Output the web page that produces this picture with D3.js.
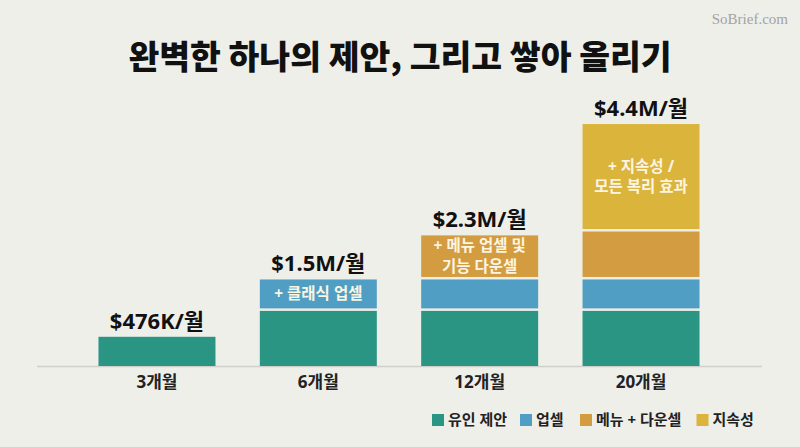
<!DOCTYPE html>
<html>
<head>
<meta charset="utf-8">
<script src="https://cdn.jsdelivr.net/npm/d3@7"></script>
<style>
  html, body { margin: 0; padding: 0; background: #efefea; }
  svg text { font-family: "Noto Sans", "Noto Sans CJK KR", sans-serif; }
  .title { font-family: "Noto Sans CJK KR", sans-serif; font-weight: 900; }
</style>
</head>
<body>
<div id="main"></div>
<script>
// categories and stacked values (M$/month)
const months = ["3개월", "6개월", "12개월", "20개월"];
const seriesNames = ["유인 제안", "업셀", "메뉴 + 다운셀", "지속성"];
const baseOffer = [0.53, 1.0, 1.0, 1.0];
const upsell = [0, 0.57, 0.57, 0.57];
const menuDownsell = [0, 0, 0.8, 0.87];
const continuity = [0, 0, 0, 1.95];
const totalLabels = ["$476K/월", "$1.5M/월", "$2.3M/월", "$4.4M/월"];
// notes written inside segments: [month, series, lines]
const segmentNotes = [
    ["6개월", "업셀", ["+ 클래식 업셀"]],
    ["12개월", "메뉴 + 다운셀", ["+ 메뉴 업셀 및", "기능 다운셀"]],
    ["20개월", "지속성", ["+ 지속성 /", "모든 복리 효과"]]
];
const seriesColors = ["#2b9583", "#519ec4", "#d49c40", "#dbb43b"];

const ctx = {
    w: 800,
    h: 447,
    GAP: 2.5,
};

function createViz(){
    let svgEl = d3.select("#main").append("svg")
                  .attr("width", ctx.w)
                  .attr("height", ctx.h);
    svgEl.append("rect").attr("width", ctx.w).attr("height", ctx.h)
         .attr("fill", "#efefea");

    let rows = months.map((m, i) => ({
        month: m,
        [seriesNames[0]]: baseOffer[i],
        [seriesNames[1]]: upsell[i],
        [seriesNames[2]]: menuDownsell[i],
        [seriesNames[3]]: continuity[i],
        label: totalLabels[i]
    }));
    let stacked = d3.stack().keys(seriesNames)(rows);

    ctx.xScale = d3.scaleBand().domain(months)
                   .range([76.3, 721.7])
                   .paddingInner(0.275)
                   .paddingOuter(0.1375);
    ctx.yScale = d3.scaleLinear().domain([0, 4.4])
                   .range([366, 123.5]);
    ctx.cScale = d3.scaleOrdinal().domain(seriesNames).range(seriesColors);

    // title
    svgEl.append("text")
         .attr("class", "title")
         .attr("x", ctx.w/2)
         .attr("y", 69)
         .attr("text-anchor", "middle")
         .style("font-size", "33.5px")
         .attr("fill", "#111")
         .text("완벽한 하나의 제안, 그리고 쌓아 올리기");
    // watermark
    svgEl.append("text")
         .attr("x", 788)
         .attr("y", 24)
         .attr("text-anchor", "end")
         .style("font-family", "'Liberation Serif', serif")
         .style("font-size", "15px")
         .attr("fill", "#a3a3a0")
         .text("SoBrief.com");

    // baseline
    svgEl.append("line")
         .attr("x1", 37).attr("x2", 762)
         .attr("y1", 366.5).attr("y2", 366.5)
         .style("stroke", "#cfcfcb")
         .style("stroke-width", 1.5);

    // stacked segments, a small gap under every upper segment
    let layers = svgEl.append("g").selectAll("g")
        .data(stacked)
        .enter()
        .append("g")
        .attr("fill", (d) => ctx.cScale(d.key));
    layers.selectAll("rect")
        .data((d) => d.filter((s) => s[1] - s[0] > 0))
        .enter()
        .append("rect")
        .attr("x", (d) => ctx.xScale(d.data.month))
        .attr("width", ctx.xScale.bandwidth())
        .attr("y", (d) => ctx.yScale(d[1]))
        .attr("height", (d) => ctx.yScale(d[0]) - ctx.yScale(d[1]) - (d[0] > 0 ? ctx.GAP : 0));

    // totals above bars
    svgEl.append("g").selectAll("text")
        .data(rows)
        .enter()
        .append("text")
        .attr("x", (d) => ctx.xScale(d.month) + ctx.xScale.bandwidth()/2)
        .attr("y", (d) => ctx.yScale(d3.sum(seriesNames, (k) => d[k])) - 8)
        .attr("text-anchor", "middle")
        .style("font-size", "22px")
        .style("font-weight", "bold")
        .attr("fill", "#111")
        .text((d) => d.label);

    // notes inside segments
    segmentNotes.forEach(function(n){
        let layer = stacked.find((s) => s.key == n[1]);
        let seg = layer[months.indexOf(n[0])];
        let cy = (ctx.yScale(seg[0]) - ctx.GAP + ctx.yScale(seg[1])) / 2;
        let lh = 20.5;
        let t = svgEl.append("text")
            .attr("x", ctx.xScale(n[0]) + ctx.xScale.bandwidth()/2)
            .attr("text-anchor", "middle")
            .style("font-size", "15.5px")
            .style("font-weight", "bold")
            .attr("fill", "#fbf5e2");
        n[2].forEach(function(line, i){
            t.append("tspan")
             .attr("x", ctx.xScale(n[0]) + ctx.xScale.bandwidth()/2)
             .attr("y", cy + (i - (n[2].length - 1)/2) * lh)
             .attr("dy", "0.35em")
             .text(line);
        });
    });

    // category axis
    let ax = svgEl.append("g")
        .attr("transform", "translate(0,376)")
        .call(d3.axisBottom(ctx.xScale).tickSize(0).tickPadding(0));
    ax.select(".domain").remove();
    ax.selectAll("text")
      .attr("dy", "0.71em")
      .style("font-size", "17px")
      .style("font-weight", "bold")
      .style("font-family", "'Noto Sans', 'Noto Sans CJK KR', sans-serif")
      .attr("fill", "#222");

    // legend
    let legendX = [432, 520, 580, 696.5];
    let lg = svgEl.append("g").selectAll("g")
        .data(seriesNames)
        .enter()
        .append("g")
        .attr("transform", (d, i) => `translate(${legendX[i]},414)`);
    lg.append("rect")
      .attr("width", 12).attr("height", 12)
      .attr("fill", (d) => ctx.cScale(d));
    lg.append("text")
      .attr("x", 16)
      .attr("y", 6)
      .attr("dy", "0.35em")
      .style("font-size", "15px")
      .style("font-weight", "bold")
      .attr("fill", "#222")
      .text((d) => d);
}

createViz();
</script>
</body>
</html>
